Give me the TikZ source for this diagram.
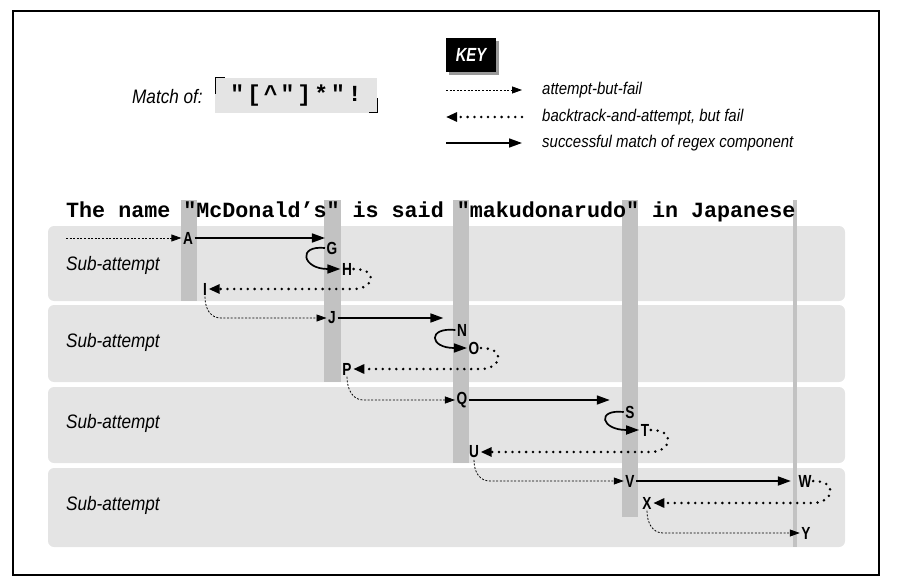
\documentclass[tikz,border=0pt]{standalone}
\usepackage{fontspec}
\setmainfont{Liberation Sans}
\setmonofont{Liberation Mono}
\newfontfamily\narrowfont[FakeStretch=0.88]{Liberation Sans}
\newfontfamily\tagfont[FakeStretch=0.78]{Liberation Sans}
\usetikzlibrary{arrows.meta,calc,shadows}

\definecolor{bandgray}{HTML}{E4E4E4}
\definecolor{bargray}{HTML}{C2C2C2}

\tikzset{
  band/.style={fill=bandgray, rounded corners=6pt},
  colbar/.style={fill=bargray},
  tag/.style={inner sep=1.5pt, font=\tagfont\bfseries\fontsize{17.5}{17.5}\selectfont},
  note/.style={anchor=west, inner sep=0pt, font=\narrowfont\itshape\fontsize{19.5}{20}\selectfont},
  keytext/.style={anchor=west, inner sep=0pt, font=\narrowfont\itshape\fontsize{17}{17}\selectfont},
  okarr/.style={line width=1.7pt, -{Triangle[length=13pt,width=9pt]}},
  failarr/.style={line width=0.8pt, dash pattern=on 2pt off 1.6pt, -{Triangle[length=10pt,width=7pt]}},
  backarr/.style={line width=2.8pt, line cap=round, dash pattern=on 0pt off 6.8pt, -{Triangle[length=11pt,width=9pt]}},
}

\begin{document}
\begin{tikzpicture}[x=1pt,y=-1pt]
\useasboundingbox (0,0) rectangle (899,588);
\draw[line width=1.2pt] (13,11) rectangle (879,575);

\node[fill=black, text=white, minimum width=50pt, minimum height=34pt,
  drop shadow={shadow xshift=3pt, shadow yshift=-3pt, fill=black!40, opacity=1},
  font=\tagfont\bfseries\itshape\fontsize{19}{19}\selectfont] (key) at (471,55) {KEY};

\coordinate (k1w) at (446,90);  \coordinate (k1e) at (522,90);
\coordinate (k2w) at (446,117); \coordinate (k2e) at (522,117);
\coordinate (k3w) at (446,143); \coordinate (k3e) at (522,143);
\draw[failarr] (k1w) -- (k1e);
\draw[backarr] (k2e) -- (k2w);
\draw[okarr] (k3w) -- (k3e);
\node[keytext] (k1t) at (542,90) {attempt-but-fail};
\node[keytext] (k2t) at (542,117) {backtrack-and-attempt, but fail};
\node[keytext] (k3t) at (542,143) {successful match of regex component};

\node[note] (matchof) at (132,97) {Match of:};
\node[fill=bandgray, minimum width=162pt, minimum height=35pt, inner sep=0pt,
  font=\ttfamily\bfseries\fontsize{23}{23}\selectfont\addfontfeatures{LetterSpace=13}] (regex) at (296,95.5)
  {"[\textasciicircum"]*"!};
\draw[line width=1.3pt] ($(regex.north west)+(1,16)$) -- ($(regex.north west)+(1,0)$) -- ($(regex.north west)+(10,0)$);
\draw[line width=1.3pt] ($(regex.south east)+(-8,-1)$) -- ($(regex.south east)+(0,-1)$) -- ($(regex.south east)+(0,-15)$);

\foreach \top/\bot in {226/301, 305/382, 387/463, 468/547}
  \fill[band] (48,\top) rectangle (845,\bot);
\foreach \y [count=\i] in {265,342,423,505}
  \node[note] (sub\i) at (66,\y) {Sub-attempt};
\foreach \xa/\xb/\bot in {181/197/301, 324/341/382, 453/469/463, 622/638/517, 793/797/547}
  \fill[colbar] (\xa,200) rectangle (\xb,\bot);

\node[anchor=base west, inner sep=0pt, font=\ttfamily\bfseries\fontsize{21.7}{22}\selectfont] (title) at (66,218)
  {The name "McDonald’s" is said "makudonarudo" in Japanese};

\node[tag] (A) at (188,238) {A};
\node[tag] (G) at (332,248) {G};
\node[tag] (H) at (347,269) {H};
\node[tag] (I) at (205,289) {I};
\node[tag] (J) at (332,318) {J};
\node[tag] (N) at (462,330) {N};
\node[tag] (O) at (474,348) {O};
\node[tag] (P) at (347,369) {P};
\node[tag] (Q) at (462,400) {Q};
\node[tag] (S) at (630,412) {S};
\node[tag] (T) at (645,430) {T};
\node[tag] (U) at (474,452) {U};
\node[tag] (V) at (630,481) {V};
\node[tag] (W) at (805,481) {W};
\node[tag] (X) at (647,503) {X};
\node[tag] (Y) at (806,533) {Y};

\coordinate (start) at (66,238);
\draw[failarr] (start) -- (A.west);
\draw[okarr] (A.east) -- (A.east -| G.west);
\draw[okarr] (G.west) .. controls +(-28,-3) and +(-38,0) .. (H.west);
\draw[backarr] (H.east) .. controls +(26,0) and +(20,0) .. (H.east |- I) -- (I.east);
\draw[failarr] (I.south) .. controls +(0,13) and +(-10,0) .. ($(I.south |- J)+(16,0)$) -- (J.west);

\draw[okarr, shorten >=12pt] (J.east) -- (J.east -| N.west);
\draw[okarr] (N.west) .. controls +(-28,-3) and +(-38,0) .. (O.west);
\draw[backarr] (O.east) .. controls +(26,0) and +(20,0) .. (O.east |- P) -- (P.east);
\draw[failarr] (P.south) .. controls +(0,13) and +(-10,0) .. ($(P.south |- Q)+(16,0)$) -- (Q.west);

\draw[okarr, shorten >=14pt] (Q.east) -- (Q.east -| S.west);
\draw[okarr] (S.west) .. controls +(-28,-3) and +(-38,0) .. (T.west);
\draw[backarr] (T.east) .. controls +(26,0) and +(20,0) .. (T.east |- U) -- (U.east);
\draw[failarr] (U.south) .. controls +(0,13) and +(-10,0) .. ($(U.south |- V)+(16,0)$) -- (V.west);

\draw[okarr, shorten >=6pt] (V.east) -- (W.west);
\draw[backarr] (W.east) .. controls +(26,0) and +(20,0) .. (W.east |- X) -- (X.east);
\draw[failarr] (X.south) .. controls +(0,13) and +(-10,0) .. ($(X.south |- Y)+(16,0)$) -- (Y.west);
\end{tikzpicture}
\end{document}
